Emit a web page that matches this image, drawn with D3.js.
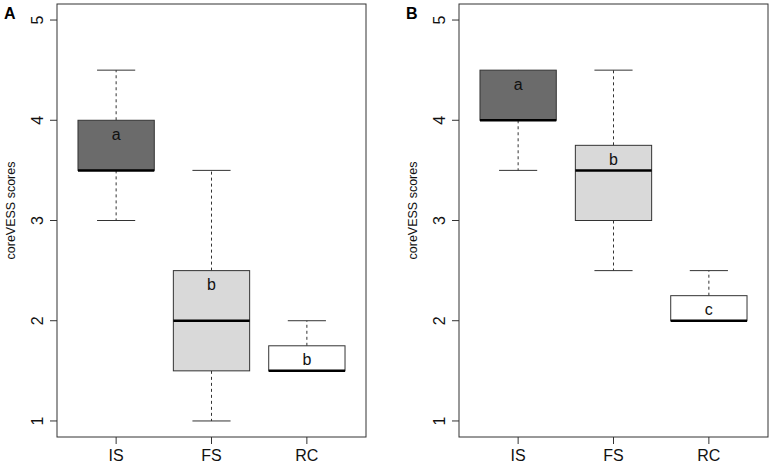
<!DOCTYPE html>
<html>
<head>
<meta charset="utf-8">
<script src="https://cdn.jsdelivr.net/npm/d3@7"></script>
<style>
  html, body { margin: 0; padding: 0; background: #fff; }
  svg { display: block; font-family: "Liberation Sans", Arial, sans-serif; }
</style>
</head>
<body>
<svg id="chart" width="772" height="466"></svg>
<script>
// ---- data ----
const categories = ["IS", "FS", "RC"];
const yTicks = [1, 2, 3, 4, 5];
const panelLabels = ["A", "B"];
const yTitle = "coreVESS scores";

// five-number summaries per category: [lower whisker, Q1, median, Q3, upper whisker]
const panelA_low    = [3.0, 1.0, 1.5];
const panelA_q1     = [3.5, 1.5, 1.5];
const panelA_median = [3.5, 2.0, 1.5];
const panelA_q3     = [4.0, 2.5, 1.75];
const panelA_high   = [4.5, 3.5, 2.0];
const panelA_letters = ["a", "b", "b"];

const panelB_low    = [3.5, 2.5, 2.0];
const panelB_q1     = [4.0, 3.0, 2.0];
const panelB_median = [4.0, 3.5, 2.0];
const panelB_q3     = [4.5, 3.75, 2.25];
const panelB_high   = [4.5, 4.5, 2.5];
const panelB_letters = ["a", "b", "c"];

const boxFills = ["#6b6b6b", "#d9d9d9", "#ffffff"];

// ---- drawing ----
const svg = d3.select("#chart");

function panel(offsetX, label, low, q1, med, q3, high, letters) {
  const left = 57 + offsetX, right = 366 + offsetX;
  const top = 4, bottom = 437;
  const g = svg.append("g");

  const x = d3.scaleLinear().domain([0.38, 3.62]).range([left, right]);
  const y = d3.scaleLinear().domain([0.84, 5.16]).range([bottom, top]);
  const unit = x(1) - x(0);
  const boxW = 0.8 * unit, capW = 0.4 * unit;

  const rows = categories.map((c, i) => ({
    c, i, pos: i + 1, low: low[i], q1: q1[i], med: med[i], q3: q3[i], high: high[i],
    letter: letters[i], fill: boxFills[i]
  }));

  const b = g.selectAll("g.box").data(rows).enter().append("g").attr("class", "box");

  // whiskers (dashed)
  b.append("line")
    .attr("x1", d => x(d.pos)).attr("x2", d => x(d.pos))
    .attr("y1", d => y(d.q3)).attr("y2", d => y(d.high))
    .attr("stroke", "#333").attr("stroke-width", 1).attr("stroke-dasharray", "3,3");
  b.append("line")
    .attr("x1", d => x(d.pos)).attr("x2", d => x(d.pos))
    .attr("y1", d => y(d.q1)).attr("y2", d => y(d.low))
    .attr("stroke", "#333").attr("stroke-width", 1).attr("stroke-dasharray", "3,3");
  // caps
  b.filter(d => d.high > d.q3).append("line")
    .attr("x1", d => x(d.pos) - capW / 2).attr("x2", d => x(d.pos) + capW / 2)
    .attr("y1", d => y(d.high)).attr("y2", d => y(d.high))
    .attr("stroke", "#333").attr("stroke-width", 1);
  b.filter(d => d.low < d.q1).append("line")
    .attr("x1", d => x(d.pos) - capW / 2).attr("x2", d => x(d.pos) + capW / 2)
    .attr("y1", d => y(d.low)).attr("y2", d => y(d.low))
    .attr("stroke", "#333").attr("stroke-width", 1);
  // boxes
  b.append("rect")
    .attr("x", d => x(d.pos) - boxW / 2).attr("width", boxW)
    .attr("y", d => y(d.q3)).attr("height", d => y(d.q1) - y(d.q3))
    .attr("fill", d => d.fill).attr("stroke", "#333").attr("stroke-width", 1);
  // median
  b.append("line")
    .attr("x1", d => x(d.pos) - boxW / 2).attr("x2", d => x(d.pos) + boxW / 2)
    .attr("y1", d => y(d.med)).attr("y2", d => y(d.med))
    .attr("stroke", "#000").attr("stroke-width", 2.5);
  // letters
  b.append("text")
    .attr("x", d => x(d.pos)).attr("y", d => y(d.q3) + 14)
    .attr("text-anchor", "middle").attr("dominant-baseline", "central")
    .attr("font-size", 16).attr("fill", "#111")
    .text(d => d.letter);

  // frame
  g.append("rect").attr("x", left).attr("y", top)
    .attr("width", right - left).attr("height", bottom - top)
    .attr("fill", "none").attr("stroke", "#333").attr("stroke-width", 1);

  // y axis ticks
  const yt = g.selectAll("g.yt").data(yTicks).enter().append("g");
  yt.append("line").attr("x1", left - 7).attr("x2", left)
    .attr("y1", d => y(d)).attr("y2", d => y(d))
    .attr("stroke", "#333");
  yt.append("text")
    .attr("transform", d => `translate(${left - 14.5},${y(d)}) rotate(-90)`)
    .attr("text-anchor", "middle").attr("font-size", 16).attr("fill", "#111")
    .text(d => d);

  // x axis ticks
  const xt = g.selectAll("g.xt").data(categories).enter().append("g");
  xt.append("line")
    .attr("x1", (d, i) => x(i + 1)).attr("x2", (d, i) => x(i + 1))
    .attr("y1", bottom).attr("y2", bottom + 7).attr("stroke", "#333");
  xt.append("text")
    .attr("x", (d, i) => x(i + 1)).attr("y", 461)
    .attr("text-anchor", "middle").attr("font-size", 16).attr("fill", "#111")
    .text(d => d);

  // y title
  g.append("text")
    .attr("transform", `translate(${left - 42},${(top + bottom) / 2 - 10}) rotate(-90)`)
    .attr("text-anchor", "middle").attr("font-size", 12.5).attr("fill", "#111")
    .text(yTitle);

  // panel label
  g.append("text").attr("x", offsetX + 4).attr("y", 19)
    .attr("font-size", 16).attr("font-weight", "bold").attr("fill", "#000")
    .text(label);
}

panel(0, panelLabels[0], panelA_low, panelA_q1, panelA_median, panelA_q3, panelA_high, panelA_letters);
panel(402, panelLabels[1], panelB_low, panelB_q1, panelB_median, panelB_q3, panelB_high, panelB_letters);
</script>
</body>
</html>
